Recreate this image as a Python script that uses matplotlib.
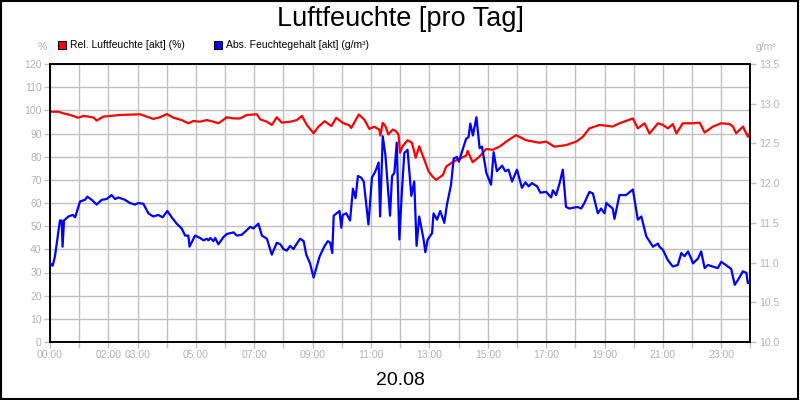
import matplotlib
matplotlib.use("Agg")
import matplotlib.pyplot as plt
from matplotlib.patches import Rectangle

plt.rcParams["font.family"] = ["Liberation Sans", "DejaVu Sans"]

# relative humidity (%), time in hours of the day
rel_hours = [0.00, 0.29, 0.46, 0.69, 0.97, 1.14, 1.31, 1.49, 1.60, 1.83, 2.17, 2.40, 2.63,
             3.09, 3.31, 3.54, 3.77, 4.00, 4.23, 4.51, 4.74, 4.91, 5.14, 5.37, 5.60, 5.77,
             6.06, 6.29, 6.51, 6.74, 7.09, 7.20, 7.43, 7.60, 7.77, 7.94, 8.23, 8.46, 8.63,
             8.80, 9.03, 9.20, 9.41, 9.64, 9.81, 10.03, 10.26, 10.32, 10.58, 10.77, 10.94,
             11.11, 11.28, 11.32, 11.40, 11.49, 11.59, 11.74, 11.85, 11.94, 11.99, 12.08,
             12.25, 12.40, 12.53, 12.65, 12.82, 12.97, 13.10, 13.23, 13.46, 13.57, 13.80,
             14.03, 14.26, 14.31, 14.48, 14.71, 14.94, 15.17, 15.40, 15.63, 15.97, 16.31,
             16.77, 17.00, 17.28, 17.68, 18.03, 18.26, 18.48, 18.83, 19.28, 19.51, 19.97,
             20.14, 20.37, 20.54, 20.83, 21.00, 21.17, 21.34, 21.46, 21.68, 22.03, 22.26,
             22.43, 22.71, 22.99, 23.28, 23.40, 23.51, 23.74, 23.91, 23.97]
rel_values = [99.4, 99.4, 98.7, 98.0, 96.8, 97.6, 97.3, 96.9, 95.6, 97.3, 97.7, 98.0, 98.1,
              98.3, 97.3, 96.3, 97.0, 98.4, 96.8, 95.8, 94.4, 95.4, 95.1, 95.8, 95.1, 94.4,
              97.0, 96.5, 96.5, 98.0, 98.3, 96.1, 95.1, 93.7, 97.0, 94.7, 95.1, 95.8, 97.6,
              93.7, 90.1, 93.0, 95.3, 93.2, 96.8, 94.6, 93.5, 92.4, 98.2, 96.0, 92.0,
              92.9, 91.7, 89.1, 94.6, 93.2, 89.6, 91.7, 91.0, 89.6, 81.7, 84.5,
              87.1, 86.0, 79.5, 84.5, 78.8, 73.7, 71.5, 70.0, 72.1, 75.7, 77.7,
              79.0, 80.5, 82.5, 77.6, 80.0, 83.3, 83.0, 84.3, 86.5, 89.3, 87.1,
              86.0, 86.5, 84.3, 85.0, 86.5, 88.6, 92.2, 93.7, 93.0, 94.4, 96.5,
              92.2, 94.4, 90.0, 94.4, 93.7, 92.2, 94.1, 90.0, 94.4, 94.4, 94.7,
              90.4, 93.0, 94.4, 94.1, 93.0, 90.1, 93.0, 88.6, 90.0]

# absolute moisture content (g/m³)
abs_hours = [0.00, 0.09, 0.17, 0.34, 0.40, 0.43, 0.48, 0.63, 0.78, 0.86, 1.03, 1.20, 1.28,
             1.43, 1.60, 1.77, 1.94, 2.11, 2.23, 2.34, 2.57, 2.74, 2.91, 3.03, 3.20, 3.37,
             3.54, 3.71, 3.86, 4.02, 4.17, 4.34, 4.51, 4.63, 4.74, 4.78, 4.97, 5.14, 5.26,
             5.37, 5.43, 5.49, 5.60, 5.66, 5.77, 5.94, 6.06, 6.29, 6.40, 6.57, 6.69, 6.86,
             6.97, 7.14, 7.26, 7.43, 7.60, 7.77, 7.89, 8.00, 8.11, 8.23, 8.34, 8.46, 8.57,
             8.69, 8.78, 8.91, 9.03, 9.14, 9.24, 9.41, 9.52, 9.60, 9.67, 9.72, 9.92, 9.98,
             10.03, 10.15, 10.28, 10.38, 10.47, 10.55, 10.66, 10.75, 10.91, 11.03, 11.15,
             11.26, 11.31, 11.40, 11.49, 11.65, 11.72, 11.80, 11.88, 11.97, 12.06, 12.14,
             12.25, 12.38, 12.48, 12.56, 12.65, 12.80, 12.86, 12.94, 13.09, 13.14, 13.26,
             13.37, 13.51, 13.60, 13.74, 13.83, 13.94, 14.01, 14.17, 14.26, 14.34, 14.40,
             14.49, 14.61, 14.72, 14.80, 14.95, 15.11, 15.20, 15.31, 15.49, 15.60, 15.71,
             15.83, 16.00, 16.17, 16.29, 16.40, 16.51, 16.69, 16.80, 17.00, 17.17, 17.23,
             17.34, 17.46, 17.57, 17.68, 17.80, 17.91, 18.08, 18.20, 18.31, 18.48, 18.60,
             18.77, 18.88, 19.00, 19.06, 19.28, 19.34, 19.51, 19.74, 19.97, 20.14, 20.26,
             20.43, 20.66, 20.83, 20.88, 21.00, 21.17, 21.34, 21.51, 21.63, 21.74, 21.86,
             21.97, 22.03, 22.20, 22.31, 22.43, 22.54, 22.71, 22.88, 23.00, 23.23, 23.34,
             23.46, 23.57, 23.74, 23.86, 23.91, 23.97]
abs_values = [10.99, 10.96, 11.08, 11.53, 11.53, 11.20, 11.53, 11.58, 11.60, 11.57, 11.77, 11.79, 11.83,
              11.79, 11.73, 11.79, 11.80, 11.85, 11.80, 11.82, 11.79, 11.75, 11.73, 11.75, 11.74, 11.62,
              11.58, 11.60, 11.57, 11.65, 11.57, 11.49, 11.43, 11.34, 11.34, 11.20, 11.34, 11.31, 11.28,
              11.30, 11.28, 11.31, 11.27, 11.31, 11.23, 11.32, 11.36, 11.38, 11.34, 11.35, 11.39, 11.45,
              11.43, 11.49, 11.34, 11.30, 11.10, 11.25, 11.23, 11.17, 11.15, 11.21, 11.17, 11.24, 11.30,
              11.27, 11.10, 10.99, 10.81, 10.95, 11.08, 11.21, 11.27, 11.25, 11.12, 11.59, 11.65, 11.44,
              11.60, 11.62, 11.53, 11.93, 11.81, 12.09, 12.07, 12.02, 11.48, 12.07, 12.15,
              12.26, 11.58, 12.59, 12.36, 11.59, 12.09, 12.13, 12.51, 11.29, 11.92, 12.38,
              12.42, 11.84, 12.02, 11.21, 11.58, 11.29, 11.13, 11.29, 11.37, 11.62, 11.54,
              11.65, 11.50, 11.73, 11.98, 12.31, 12.33, 12.27, 12.46, 12.56, 12.58, 12.75,
              12.60, 12.83, 12.44, 12.46, 12.13, 11.98, 12.39, 12.15, 12.22, 12.15, 12.17,
              12.02, 12.17, 11.94, 12.01, 11.96, 12.00, 11.96, 11.88, 11.89, 11.82, 11.91,
              11.85, 12.00, 12.17, 11.70, 11.68, 11.69, 11.70, 11.68, 11.75, 11.89, 11.87,
              11.62, 11.68, 11.62, 11.75, 11.68, 11.55, 11.85, 11.85, 11.92, 11.54, 11.58,
              11.33, 11.20, 11.24, 11.20, 11.16, 11.03, 10.95, 10.97, 11.12, 11.08, 11.14,
              11.05, 10.99, 11.05, 11.14, 10.93, 10.97, 10.95, 10.93, 11.01, 10.95, 10.92,
              10.72, 10.78, 10.89, 10.87, 10.74, 10.76]

hour_labels = {0: "00:00", 2: "02:00", 3: "03:00", 5: "05:00", 7: "07:00", 9: "09:00",
               11: "11:00", 13: "13:00", 15: "15:00", 17: "17:00", 19: "19:00",
               21: "21:00", 23: "23:00"}
left_ticks = list(range(0, 121, 10))
right_ticks = [10.0, 10.5, 11.0, 11.5, 12.0, 12.5, 13.0, 13.5]

RED = "#ff0000"
BLUE = "#0000ff"
GRID = "#c0c0c0"
LABEL = "#b4b4b4"

fig = plt.figure(figsize=(8, 4), dpi=100)
fig.patch.set_facecolor("white")
ax = fig.add_axes([0.0625, 0.145, 0.8756, 0.695])

ax.plot(rel_hours, rel_values, color=RED, lw=1.6, zorder=3)
ax.set_xlim(0, 24)
ax.set_ylim(0, 120)
ax.set_yticks(left_ticks)
ax.set_xticks(range(25))
ax.set_xticklabels([hour_labels.get(h, "") for h in range(25)])
ax.grid(True, color=GRID, lw=1.0)
ax.set_axisbelow(True)
ax.tick_params(colors=GRID, labelcolor=LABEL, labelsize=7.5, length=4, width=1, pad=2)
for s in ax.spines.values():
    s.set_color("black")
    s.set_linewidth(1.2)

ax2 = ax.twinx()
ax2.plot(abs_hours, abs_values, color=BLUE, lw=1.6, zorder=3)
ax2.set_ylim(10.0, 13.5)
ax2.set_yticks(right_ticks)
ax2.set_yticklabels([f"{v:.1f}" for v in right_ticks])
ax2.tick_params(colors=GRID, labelcolor=LABEL, labelsize=7.5, length=4, width=1, pad=2)
for s in ax2.spines.values():
    s.set_color("black")
    s.set_linewidth(1.2)

fig.text(0.5, 0.952, "Luftfeuchte [pro Tag]", ha="center", va="center", fontsize=19.5)
fig.text(0.5, 0.048, "20.08", ha="center", va="center", fontsize=14)
fig.text(0.053, 0.882, "%", ha="center", va="center", fontsize=7.5, color=LABEL)
fig.text(0.957, 0.882, "g/m³", ha="center", va="center", fontsize=7.5, color=LABEL)

# legend row
for x0, col, txt in [(0.073, RED, "Rel. Luftfeuchte [akt] (%)"),
                     (0.268, BLUE, "Abs. Feuchtegehalt [akt] (g/m³)")]:
    fig.patches.append(Rectangle((x0, 0.878), 0.0095, 0.019, transform=fig.transFigure,
                                 facecolor=col, edgecolor="black", lw=0.8))
    fig.text(x0 + 0.015, 0.888, txt, ha="left", va="center", fontsize=7.5)

fig.patches.append(Rectangle((0.001, 0.002), 0.997, 0.995, transform=fig.transFigure,
                             fill=False, edgecolor="black", lw=1.5))

fig.savefig("out.png", dpi=100)
